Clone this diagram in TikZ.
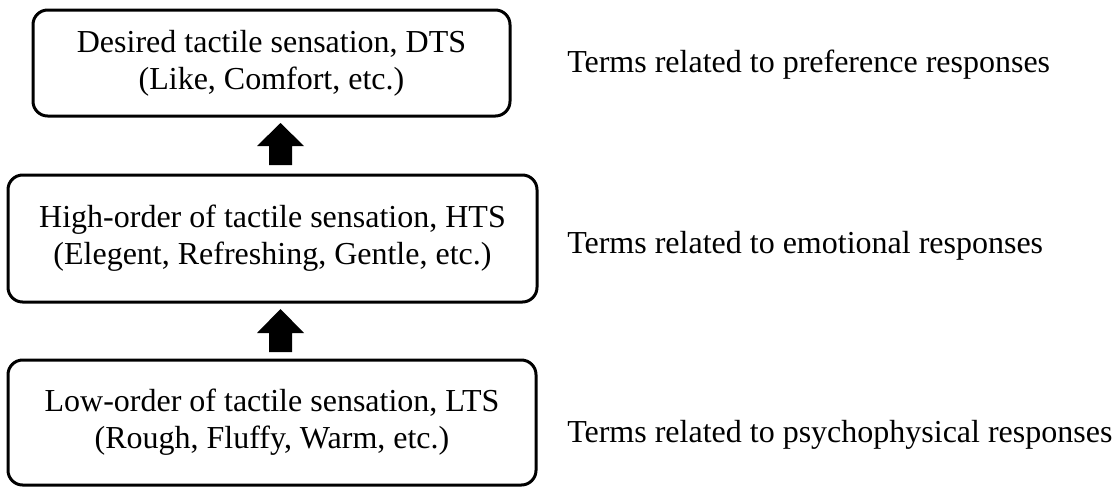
\documentclass[tikz,border=0pt]{standalone}
\usepackage{fontspec}
\setmainfont{Liberation Serif}
\begin{document}
\begin{tikzpicture}[x=0.75pt,y=-0.75pt,
  box/.style={draw, line width=2.25pt, rounded corners=11pt, align=center,
    font=\fontsize{24}{27.75}\selectfont, inner sep=0pt},
  term/.style={anchor=base west, font=\fontsize{24}{28}\selectfont, inner sep=0pt},
  blk/.style={fill=black}]
\useasboundingbox (0,0) rectangle (1120,487);
\node[box, minimum width=357.75pt, minimum height=79.5pt] (dts) at (271.5,63)
  {Desired tactile sensation, DTS\\(Like, Comfort, etc.)};
\node[box, minimum width=396.75pt, minimum height=95.25pt] (hts) at (272.5,238.5)
  {High-order of tactile sensation, HTS\\(Elegent, Refreshing, Gentle, etc.)};
\node[box, minimum width=396pt, minimum height=93.75pt] (lts) at (272,422.5)
  {Low-order of tactile sensation, LTS\\(Rough, Fluffy, Warm, etc.)};
\node[term] (t1) at (567,72) {Terms related to preference responses};
\node[term] (t2) at (567,253) {Terms related to emotional responses};
\node[term] (t3) at (567,442) {Terms related to psychophysical responses};
% block arrows
\fill[blk] (269,165) -- (269,146) -- (257,146) -- (280.5,123) -- (304,146) -- (292,146) -- (292,165) -- cycle;
\fill[blk] (269,352) -- (269,333) -- (257,333) -- (280.5,309) -- (304,333) -- (292,333) -- (292,352) -- cycle;
\end{tikzpicture}
\end{document}
